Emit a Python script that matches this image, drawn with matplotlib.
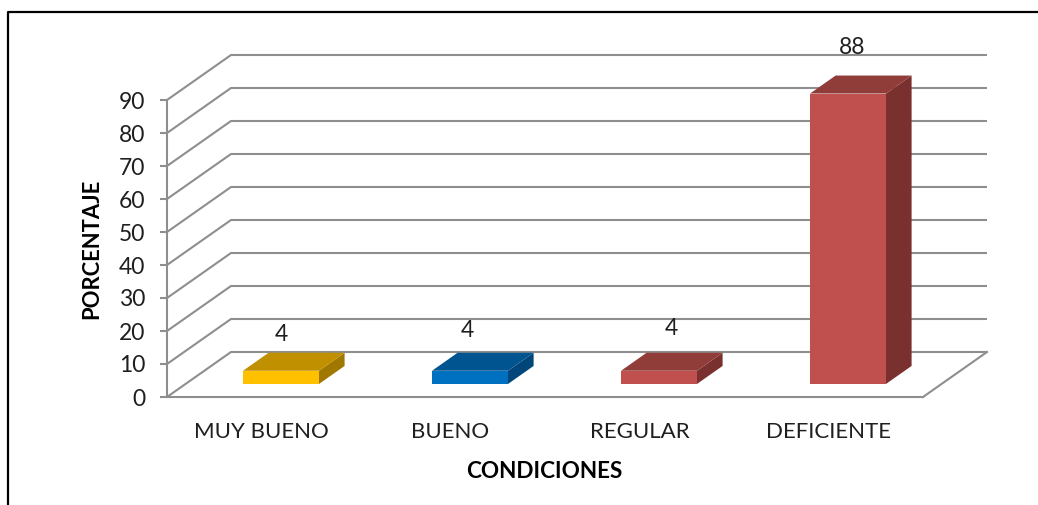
import matplotlib
matplotlib.use('Agg')
import matplotlib.pyplot as plt
from matplotlib.lines import Line2D
from matplotlib.patches import Polygon

categories = ['MUY BUENO', 'BUENO', 'REGULAR', 'DEFICIENTE']
values = [4, 4, 4, 88]
yticks = [0, 10, 20, 30, 40, 50, 60, 70, 80, 90]

front_colors = ['#FFC000', '#0070C0', '#C0504D', '#C0504D']
top_colors = ['#C09000', '#00548F', '#903C39', '#903C39']
side_colors = ['#A07800', '#00467A', '#7A302E', '#7A302E']
label_offsets = [(0, 36), (-3, 40), (12, 42), (4, 46)]

W, H = 1038, 505
GRID = '#8E8E8E'
TEXT = '#1F1F1F'

# shear of the 3d look, for full depth, in axis units
DEPTH_X = 64 / 189
DEPTH_Y = 45 / 3.3

plt.rcParams['font.family'] = ['Lato', 'DejaVu Sans']


def proj(x, y, d):
    return x + d * DEPTH_X, y + d * DEPTH_Y


def draw_bar(ax, i, value):
    # bar sits in the middle of the floor, front face first
    x0, x1 = i + 0.304, i + 0.706
    d0, d1 = 0.29, 0.69
    base = 0
    front = [proj(x0, base, d0), proj(x1, base, d0), proj(x1, value, d0), proj(x0, value, d0)]
    top = [proj(x0, value, d0), proj(x1, value, d0), proj(x1, value, d1), proj(x0, value, d1)]
    side = [proj(x1, base, d0), proj(x1, base, d1), proj(x1, value, d1), proj(x1, value, d0)]
    for pts, color in ((side, side_colors[i]), (top, top_colors[i]), (front, front_colors[i])):
        ax.add_patch(Polygon(pts, closed=True, facecolor=color, edgecolor='none',
                             clip_on=False, zorder=3))
    # the tall bar's top lies above the axis limit, so no clipping here
    ax.annotate(str(value), xy=proj((x0 + x1) / 2, value, d0),
                xytext=label_offsets[i], textcoords='offset pixels',
                ha='center', va='center', fontsize=16.5, color=TEXT, zorder=4,
                annotation_clip=False)


fig = plt.figure(figsize=(W / 100, H / 100), dpi=100, facecolor='white')
ax = fig.add_axes([167 / W, 1 - 397 / H, 756 / W, 297 / H])
ax.set_xlim(0, 4)
ax.set_ylim(0, 90)
ax.patch.set_visible(False)

# walls and floor
for t in yticks:
    xs, ys = zip(proj(0, t, 0), proj(0, t, 1), proj(4, t, 1))
    ax.plot(xs, ys, color=GRID, lw=1.5, clip_on=False, zorder=1, solid_capstyle='butt')
xs, ys = zip(proj(4, 0, 0), proj(4, 0, 1))
ax.plot(xs, ys, color=GRID, lw=1.5, clip_on=False, zorder=1)

for i, value in enumerate(values):
    draw_bar(ax, i, value)

for name in ('top', 'right'):
    ax.spines[name].set_visible(False)
for name in ('left', 'bottom'):
    ax.spines[name].set_color(GRID)
    ax.spines[name].set_linewidth(1.5)

ax.set_yticks(yticks)
ax.tick_params(axis='y', length=5, width=1.5, color=GRID, labelsize=16.5,
               labelcolor=TEXT, pad=10.5)
ax.set_xticks([i + 0.5 for i in range(len(categories))])
ax.set_xticklabels(categories)
ax.tick_params(axis='x', length=0, labelsize=16, labelcolor=TEXT, pad=18)

fig.text(92 / W, 1 - 248.5 / H, 'PORCENTAJE', rotation=90, ha='center', va='center',
         fontsize=15.8, fontweight='bold', color='black')
fig.text(544 / W, 1 - 471 / H, 'CONDICIONES', ha='center', va='center',
         fontsize=16.2, fontweight='bold', color='black')

# outer frame, only top and left are drawn
fig.add_artist(Line2D([8 / W, 8 / W, 1], [0, 1 - 12 / H, 1 - 12 / H], color='black', lw=1.6))

fig.savefig('out.png', dpi=100)
